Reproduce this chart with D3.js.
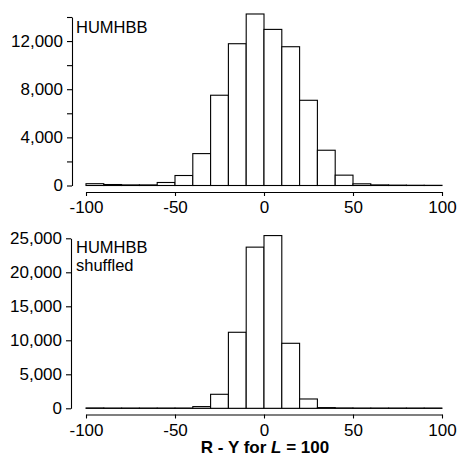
<!DOCTYPE html>
<html>
<head>
<meta charset="utf-8">
<script src="https://cdn.jsdelivr.net/npm/d3@7"></script>
<style>
  body { margin: 0; background: #fff; }
  svg { display: block; }
  text { font-family: "Liberation Sans", Arial, sans-serif; fill: #000; }
  .axis path, .axis line { stroke: #000; stroke-width: 1.1; }
  .axis text { font-size: 17px; }
  rect.bar { fill: #fff; stroke: #000; stroke-width: 1.1; }
</style>
</head>
<body>
<div class="chart"></div>
<script>
// bin left edges, width 10
var binEdges = [-100, -90, -80, -70, -60, -50, -40, -30, -20, -10, 0, 10, 20, 30, 40, 50, 60, 70, 80, 90];
var binWidth = 10;

// counts
var humhbb   = [150, 80, 50, 50, 250, 830, 2650, 7500, 11780, 14250, 12970, 11530, 7080, 2930, 860, 140, 50, 30, 20, 15];
var shuffled = [40, 20, 20, 20, 20, 20, 250, 2060, 11180, 23700, 25400, 9560, 1370, 100, 40, 20, 20, 20, 20, 20];

var xTicks = [-100, -50, 0, 50, 100];
var topTicks = [0, 2000, 4000, 6000, 8000, 10000, 12000, 14000];
var topLabels = [0, 4000, 8000, 12000];
var bottomTicks = [0, 5000, 10000, 15000, 20000, 25000];

var width = 458,
    height = 464;

var svg = d3.select('.chart')
  .append('svg')
    .attr('width', width)
    .attr('height', height);

var fmt = d3.format(',');

function panel(values, cfg) {
  var x = d3.scaleLinear().domain([-100, 100]).range([86, 442]);
  var y = d3.scaleLinear().domain(cfg.yDomain).range([cfg.y0, cfg.y1]);
  var g = svg.append('g');

  // baseline under the bars
  g.append('line')
    .attr('x1', x(-100)).attr('x2', x(100))
    .attr('y1', y(0)).attr('y2', y(0))
    .attr('stroke', '#000').attr('stroke-width', 1.1);

  g.selectAll('rect.bar')
    .data(values)
    .enter()
      .append('rect')
        .attr('class', 'bar')
        .attr('x', function(d, i) { return x(binEdges[i]); })
        .attr('width', function(d, i) { return x(binEdges[i] + binWidth) - x(binEdges[i]); })
        .attr('y', function(d) { return y(d); })
        .attr('height', function(d) { return y(0) - y(d); });

  var yAxis = d3.axisLeft(y)
    .tickValues(cfg.yTicks)
    .tickSize(5)
    .tickSizeOuter(0)
    .tickPadding(4)
    .tickFormat(function(d) { return cfg.yLabels.indexOf(d) >= 0 ? fmt(d) : ''; });

  g.append('g')
    .attr('class', 'axis')
    .attr('transform', 'translate(' + cfg.yAxisX + ',0)')
    .call(yAxis);

  var xAxis = d3.axisBottom(x)
    .tickValues(xTicks)
    .tickSize(4)
    .tickSizeOuter(0)
    .tickPadding(5)
    .tickFormat(function(d) { return String(d); });  // plain hyphen, as printed

  g.append('g')
    .attr('class', 'axis')
    .attr('transform', 'translate(0,' + cfg.xAxisY + ')')
    .call(xAxis);

  var label = g.append('text')
    .attr('x', 76)
    .attr('y', cfg.labelY)
    .style('font-size', '16.5px');
  cfg.label.forEach(function(s, i) {
    label.append('tspan')
      .attr('x', 76)
      .attr('dy', i === 0 ? 0 : 18)
      .text(s);
  });
}

panel(humhbb, {
  yDomain: [0, 14000], y0: 185.5, y1: 17,
  yTicks: topTicks, yLabels: topLabels,
  yAxisX: 72, xAxisY: 192,
  label: ['HUMHBB'], labelY: 33
});

panel(shuffled, {
  yDomain: [0, 25000], y0: 408.3, y1: 238.3,
  yTicks: bottomTicks, yLabels: bottomTicks,
  yAxisX: 71, xAxisY: 414.5,
  label: ['HUMHBB', 'shuffled'], labelY: 252.5
});

// x axis title
var title = svg.append('text')
  .attr('x', 265)
  .attr('y', 453)
  .attr('text-anchor', 'middle')
  .style('font-size', '17px')
  .style('font-weight', 'bold');
title.append('tspan').text('R - Y for ');
title.append('tspan').style('font-style', 'italic').text('L');
title.append('tspan').text(' = 100');
</script>
</body>
</html>
